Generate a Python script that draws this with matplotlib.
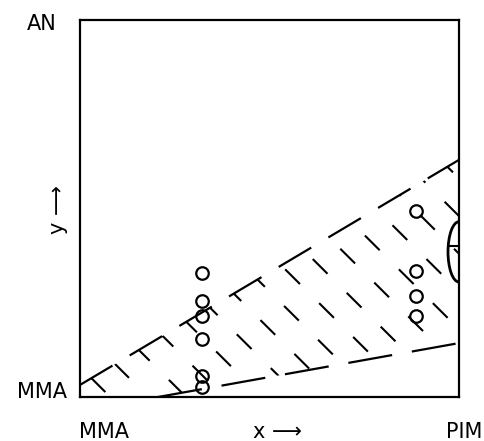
import numpy as np
import matplotlib
matplotlib.use("Agg")
import matplotlib.pyplot as plt
from matplotlib.patches import Polygon, Arc

# ---- data (axes units: x MMA->PIM, y MMA->AN, both 0..1) ----
upper_x = [0.0, 1.0]
upper_y = [0.032, 0.629]
lower_x = [0.206, 1.0]
lower_y = [0.0, 0.143]

left_pts_x = [0.322, 0.322, 0.322, 0.322, 0.322, 0.322]
left_pts_y = [0.329, 0.255, 0.215, 0.154, 0.056, 0.027]
right_pts_x = [0.887, 0.887, 0.887, 0.887]
right_pts_y = [0.493, 0.334, 0.268, 0.215]

arc_center = (1.0, 0.385)
arc_w, arc_h = 0.058, 0.16
arc_chord_y = 0.40

x_labels = ["MMA", "x \u27f6", "PIM"]
y_labels = ["MMA", "y \u27f6", "AN"]

fig = plt.figure(figsize=(4.84, 4.41), dpi=100)
ax = fig.add_axes([80/484, (441-397)/441, 379/484, 377/441])
ax.set_xlim(0, 1)
ax.set_ylim(0, 1)
ax.set_xticks([])
ax.set_yticks([])
for s in ax.spines.values():
    s.set_linewidth(1.6)
    s.set_color("black")

# hatched region
poly_pts = [(0, 0), (upper_x[0], upper_y[0]), (upper_x[1], upper_y[1]),
            (lower_x[1], lower_y[1]), (lower_x[0], lower_y[0])]
region = Polygon(poly_pts, closed=True, facecolor="none", edgecolor="none")
ax.add_patch(region)
for i, c in enumerate(np.arange(-0.02, 2.0, 0.1)):
    xs = np.array([c - 1.2, c + 0.2])
    ys = c - xs
    ln, = ax.plot(xs, ys, color="black", lw=1.5,
                  linestyle=((i % 3) * 7.0, (10, 13)))
    ln.set_clip_path(region)

# boundary lines
ax.plot(upper_x, upper_y, color="black", lw=1.6, linestyle=(0, (17, 9)))
ax.plot(lower_x, lower_y, color="black", lw=1.6, linestyle=(0, (20, 9)))

# points
ax.plot(left_pts_x, left_pts_y, "o", ms=9, mfc="none", mec="black", mew=1.6)
ax.plot(right_pts_x, right_pts_y, "o", ms=9, mfc="none", mec="black", mew=1.6)

# arc at right edge
ax.add_patch(Arc(arc_center, arc_w, arc_h, theta1=90, theta2=270,
                 color="black", lw=2))
ax.plot([arc_center[0] - arc_w / 2 * 0.95, 1.0], [arc_chord_y, arc_chord_y],
        color="black", lw=1.5)

fs = 15
fam = "DejaVu Sans"
fig.text(79/484, 1 - 432/441, x_labels[0], ha="left", va="center", fontsize=fs, family=fam)
fig.text(277/484, 1 - 432/441, x_labels[1], ha="center", va="center", fontsize=fs, family=fam)
fig.text(482/484, 1 - 432/441, x_labels[2], ha="right", va="center", fontsize=fs, family=fam)
fig.text(67/484, 1 - 392/441, y_labels[0], ha="right", va="center", fontsize=fs, family=fam)
fig.text(58/484, 1 - 210/441, y_labels[1], ha="center", va="center", rotation=90, fontsize=fs, family=fam)
fig.text(57/484, 1 - 24/441, y_labels[2], ha="right", va="center", fontsize=fs, family=fam)

fig.savefig("out.png", dpi=100)
